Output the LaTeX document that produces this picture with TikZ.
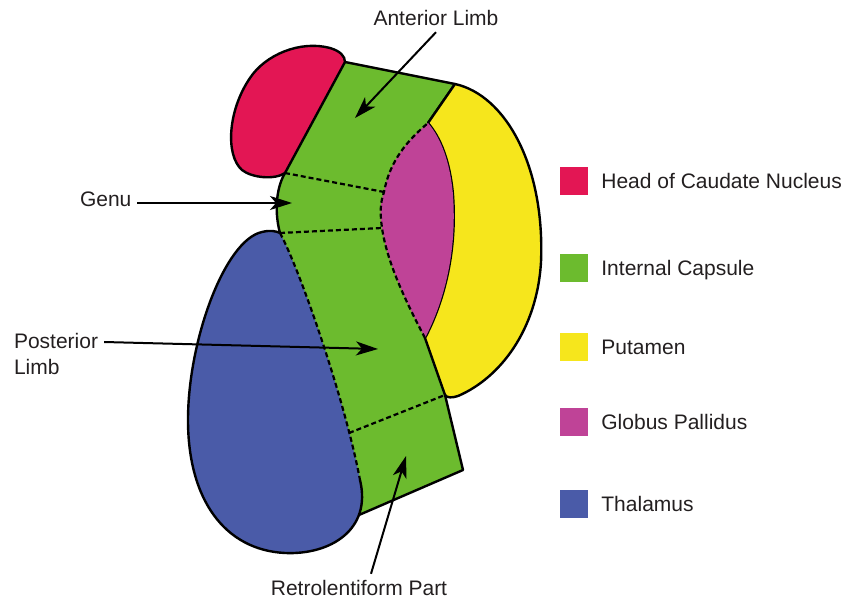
\documentclass[tikz,border=0pt]{standalone}
\usepackage{fontspec}
\setmainfont{Liberation Sans}
\usepackage{xcolor}
\usepackage{tikz}
\usetikzlibrary{arrows.meta,positioning}
\definecolor{bcaud}{HTML}{E31654}
\definecolor{bcaps}{HTML}{6CBB2E}
\definecolor{bput}{HTML}{F6E61C}
\definecolor{bpal}{HTML}{BF4397}
\definecolor{bthal}{HTML}{4A5BA8}
\definecolor{btext}{HTML}{231F20}
\tikzset{
  >={Stealth[length=22pt,width=14pt,inset=6pt]},
  bedge/.style={draw=black, line width=2.4pt, line join=round},
  bdiv/.style={draw=black, line width=2.2pt, dash pattern=on 5pt off 3pt},
  barrow/.style={->, black, line width=2pt},
  blbl/.style={text=btext, font=\fontsize{21}{26}\selectfont, inner sep=0pt, outer sep=6pt},
  bkey/.style={minimum size=28pt, inner sep=0pt},
  bkeytxt/.style={text=btext, font=\fontsize{21}{26}\selectfont, inner sep=0pt,
                  text height=15pt, text depth=0pt, anchor=west},
}

\begin{document}
\begin{tikzpicture}[x=1pt,y=-1pt]
  \useasboundingbox (0,0) rectangle (851,601);

  % corners of the capsule band
  \coordinate (capTL) at (345,62);
  \coordinate (capTR) at (455,84);
  \coordinate (palT)  at (428,123);
  \coordinate (palB)  at (425,338);
  \coordinate (genTL) at (285,173);
  \coordinate (genBL) at (280,233);
  \coordinate (genTR) at (384,192);
  \coordinate (genBR) at (382,228);
  \coordinate (retTL) at (349,433);
  \coordinate (putB)  at (445,395);
  \coordinate (retBR) at (463,470);
  \coordinate (retBL) at (352,518);

  % internal capsule, one green band
  \fill[bcaps] (capTL) -- (capTR) -- (palT) -- (400,180) -- (400,260) -- (palB)
    -- (putB) -- (retBR) -- (retBL) -- (340,420) -- (genBL)
    .. controls (275,215) and (275,190) .. (genTL) -- cycle;
  \draw[bedge] (genTL) .. controls (275,190) and (275,215) .. (genBL);
  \draw[bedge] (capTL) -- (capTR) -- (palT);
  \draw[bedge] (putB) -- (retBR) -- (retBL);

  % putamen
  \draw[bedge, fill=bput] (capTR) .. controls (505,95) and (545,165) .. (541,262)
    .. controls (537,330) and (500,378) .. (458,396)
    .. controls (452,398) and (447,398) .. (putB) -- (palB)
    .. controls (445,300) and (457,250) .. (453,195)
    .. controls (450,160) and (440,137) .. (palT) -- cycle;

  % globus pallidus
  \fill[bpal] (palB) .. controls (405,300) and (387,262) .. (genBR)
    .. controls (380,214) and (380,203) .. (genTR)
    .. controls (390,160) and (408,140) .. (palT)
    .. controls (440,137) and (450,160) .. (453,195)
    .. controls (457,250) and (445,300) .. (palB) -- cycle;
  \draw[bdiv] (palB) .. controls (405,300) and (387,262) .. (genBR)
    .. controls (380,214) and (380,203) .. (genTR)
    .. controls (390,160) and (408,140) .. (palT);

  % thalamus
  \fill[bthal] (genBL) .. controls (300,270) and (345,400) .. (360,480)
    .. controls (372,530) and (330,555) .. (285,553)
    .. controls (225,550) and (188,500) .. (188,420)
    .. controls (188,340) and (225,240) .. (262,232)
    .. controls (270,230) and (276,231) .. (genBL) -- cycle;
  \draw[bedge] (360,480) .. controls (372,530) and (330,555) .. (285,553)
    .. controls (225,550) and (188,500) .. (188,420)
    .. controls (188,340) and (225,240) .. (262,232)
    .. controls (270,230) and (276,231) .. (genBL);
  \draw[bdiv] (genBL) .. controls (300,270) and (345,400) .. (360,480);

  % head of caudate nucleus
  \draw[bedge, fill=bcaud] (capTL) -- (genTL)
    .. controls (275,180) and (252,178) .. (242,170)
    .. controls (225,155) and (228,110) .. (250,78)
    .. controls (265,55) and (300,40) .. (330,48)
    .. controls (340,51) and (345,56) .. (capTL) -- cycle;

  % genu and retrolentiform borders
  \draw[bdiv] (genTL) -- (genTR);
  \draw[bdiv] (genBL) -- (genBR);
  \draw[bdiv] (retTL) -- (putB);

  % labels
  \coordinate (tAnt)   at (355,118);
  \coordinate (tGenu)  at (292,203);
  \coordinate (tPost)  at (378,349);
  \coordinate (tRetro) at (406,456);

  \node[blbl, anchor=base] (lAnt) at (436,26) {Anterior Limb};
  \node[blbl, anchor=base west] (lGenu) at (74,207) {Genu};
  \node[blbl, anchor=west, align=left] (lPost) at (8,354) {Posterior\\Limb};
  \node[blbl, anchor=base] (lRetro) at (359,595) {Retrolentiform Part};

  \draw[barrow] (lAnt.south) -- (tAnt);
  \draw[barrow] (lGenu.east |- tGenu) -- (tGenu);
  \draw[barrow] ([yshift=12pt]lPost.east) -- (tPost);
  \draw[barrow] ([xshift=12pt]lRetro.north) -- (tRetro);

  % legend
  \node[bkey, fill=bcaud] (swHead) at (574,181) {};
  \node[bkey, fill=bcaps] (swCaps) at (574,268) {};
  \node[bkey, fill=bput]  (swPut)  at (574,347) {};
  \node[bkey, fill=bpal]  (swPal)  at (574,422) {};
  \node[bkey, fill=bthal] (swThal) at (574,504) {};
  \node[bkeytxt, right=13pt of swHead] (kHead) {Head of Caudate Nucleus};
  \node[bkeytxt, right=13pt of swCaps] (kCaps) {Internal Capsule};
  \node[bkeytxt, right=13pt of swPut]  (kPut)  {Putamen};
  \node[bkeytxt, right=13pt of swPal]  (kPal)  {Globus Pallidus};
  \node[bkeytxt, right=13pt of swThal] (kThal) {Thalamus};

\end{tikzpicture}
\end{document}
